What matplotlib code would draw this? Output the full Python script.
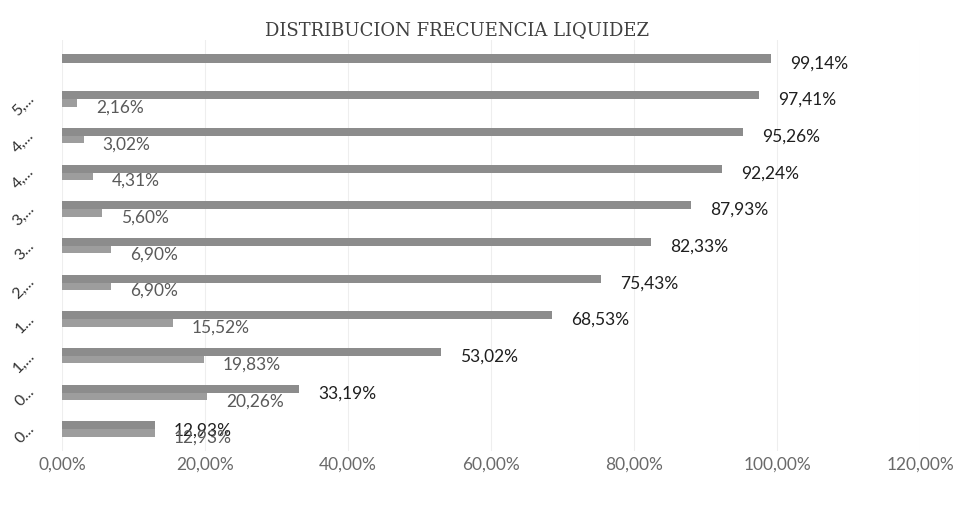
import numpy as np
import matplotlib.pyplot as plt

# rows listed top to bottom
clases = ["", "5,...", "4,...", "4,...", "3,...", "3...", "2,...", "1...", "1,...", "0...", "0..."]
frecuencia = [None, 2.16, 3.02, 4.31, 5.60, 6.90, 6.90, 15.52, 19.83, 20.26, 12.93]
acumulada = [99.14, 97.41, 95.26, 92.24, 87.93, 82.33, 75.43, 68.53, 53.02, 33.19, 12.93]
ticks = [0, 20, 40, 60, 80, 100, 120]

plt.rcParams['font.family'] = ['Lato', 'DejaVu Sans']

fig = plt.figure(figsize=(9.8, 5.08), dpi=100)
ax = fig.add_axes([0.0633, 0.112, 0.8757, 0.809])

y = np.arange(len(clases))
frec = np.array([np.nan if v is None else v for v in frecuencia])
acum = np.array(acumulada)

# frequency bar sits underneath, cumulative bar over its upper half
ax.barh(y + 0.0, frec, height=0.42, align='center', color='#9d9d9d', zorder=2)
ax.barh(y - 0.1, acum, height=0.22, align='center', color='#8c8c8c', zorder=3)

to_px = 120 / 858.0  # data units per pixel along x
for i in range(len(clases)):
    ax.text(acum[i] + 19 * to_px, y[i] + 0.03, f"{acum[i]:.2f}%".replace('.', ','),
            ha='left', va='center', fontsize=12.5, color='#1f1f1f', zorder=5)
    if not np.isnan(frec[i]):
        ax.text(frec[i] + 19 * to_px, y[i] + 0.24, f"{frec[i]:.2f}%".replace('.', ','),
                ha='left', va='center', fontsize=12.5, color='#5a5a5a', zorder=5)

ax.set_xlim(0, 120)
ax.set_ylim(10.6, -0.6)
ax.set_xticks(ticks)
ax.set_xticklabels([f"{t:.2f}%".replace('.', ',') for t in ticks], color='#6a6a6a', fontsize=12.5)
ax.set_yticks(y - 0.05)
ax.set_yticklabels(clases, rotation=45, fontsize=11.5, color='#333333')
ax.tick_params(axis='x', length=0, pad=4)
ax.tick_params(axis='y', length=0, pad=18)
ax.grid(axis='x', color='#eeeeee', linewidth=0.8, zorder=0)
for s in ax.spines.values():
    s.set_visible(False)

fig.text(0.466, 0.94, "DISTRIBUCION FRECUENCIA LIQUIDEZ", ha='center', va='center',
         fontsize=13, color='#404040', family=['DejaVu Serif'])

fig.savefig('out.png', dpi=100, facecolor='white')
